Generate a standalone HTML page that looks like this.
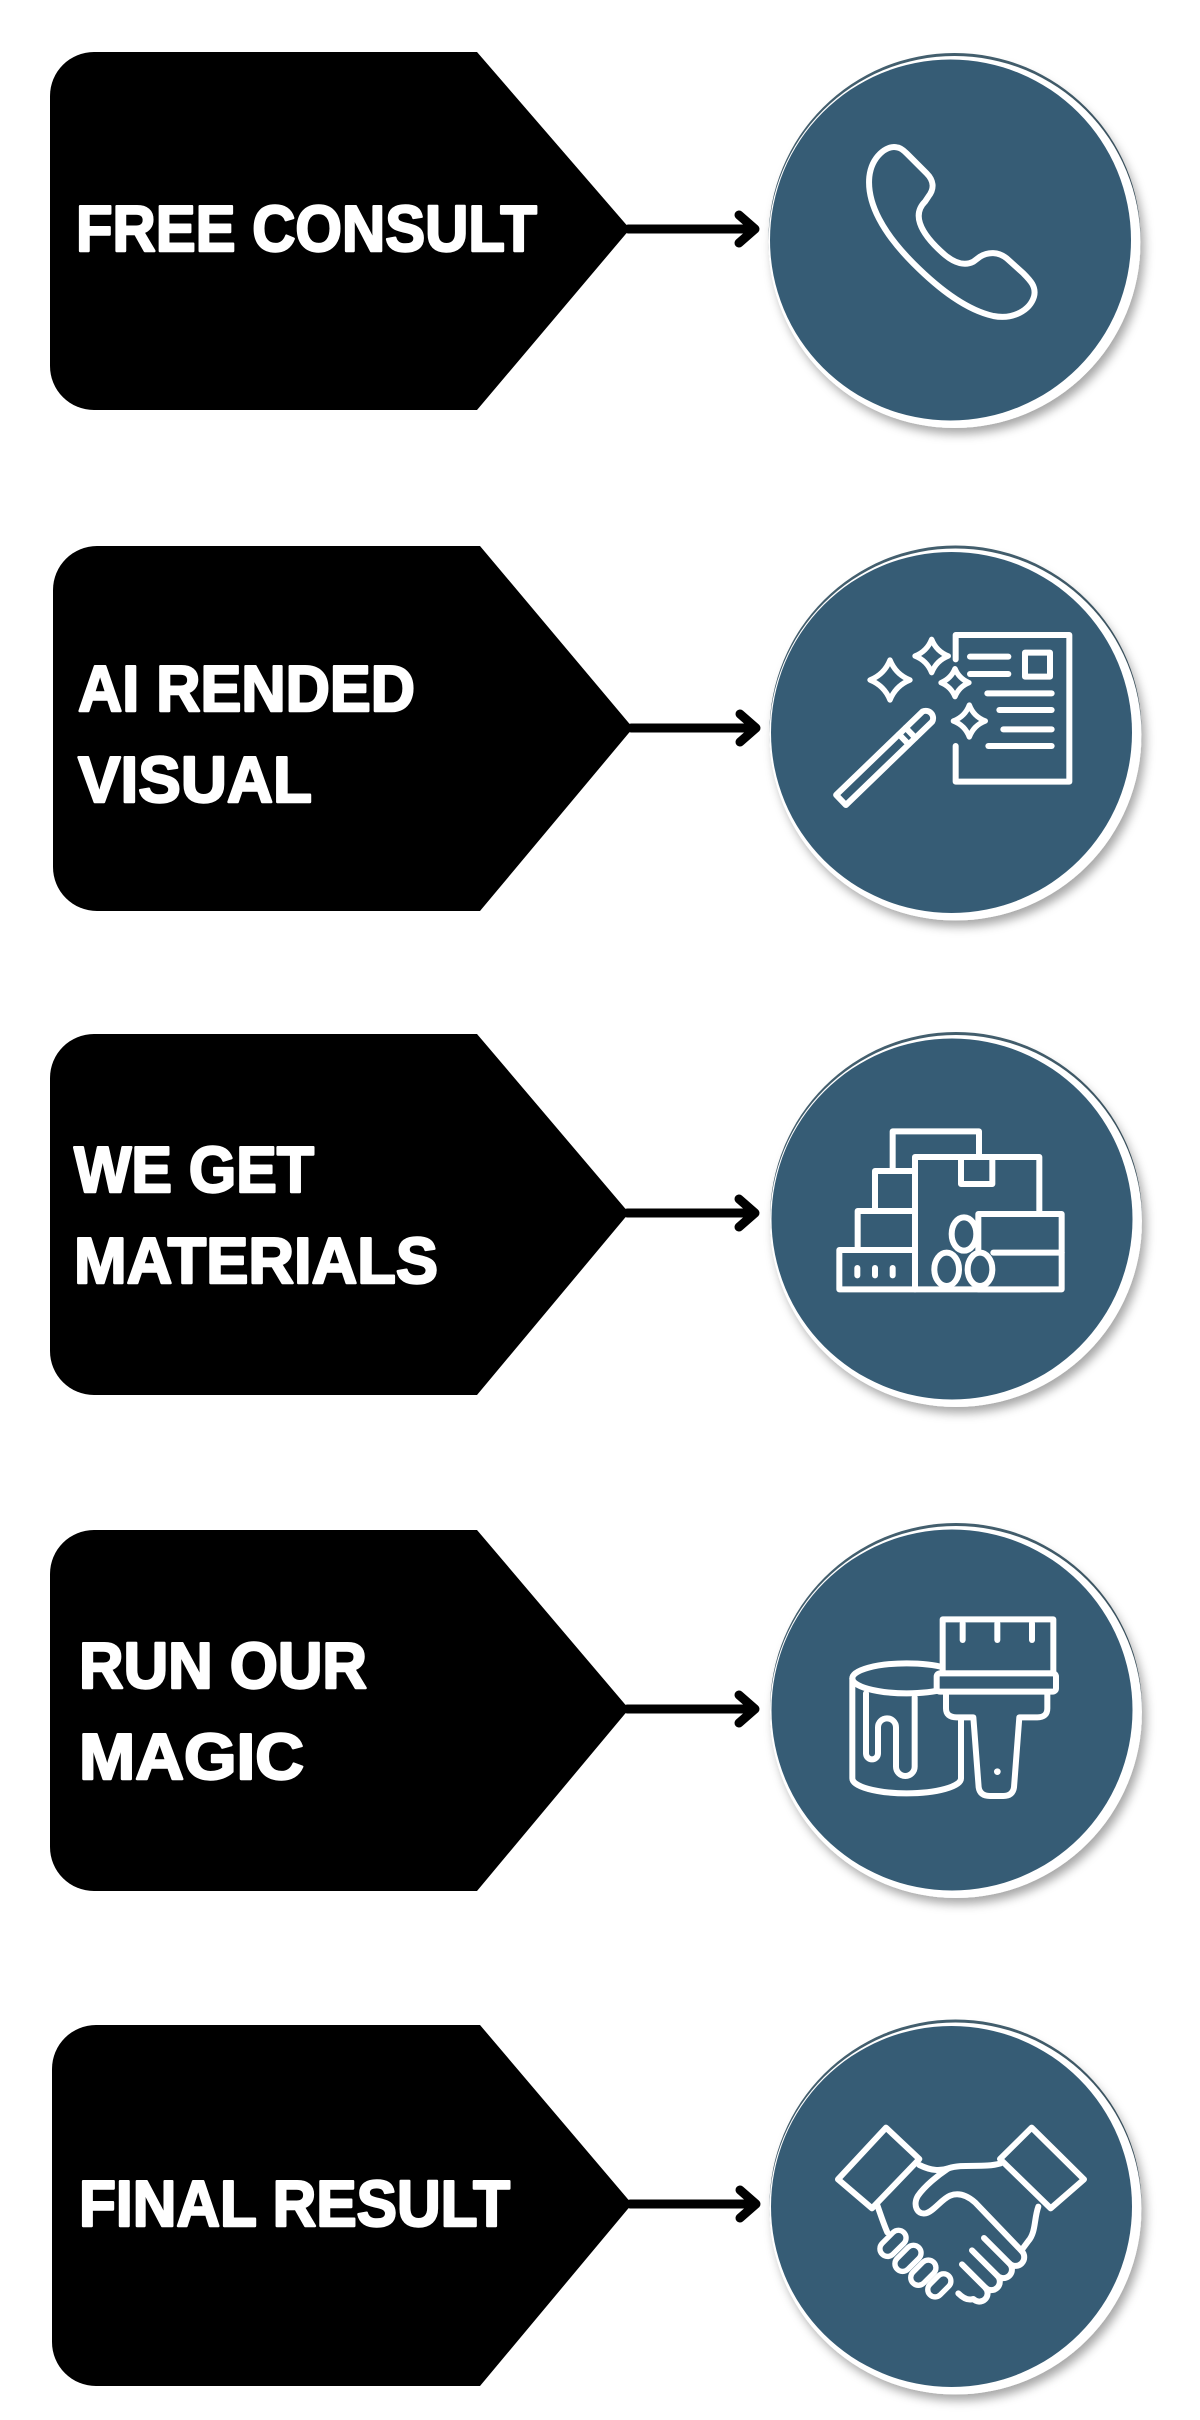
<!DOCTYPE html>
<html>
<head>
<meta charset="utf-8">
<style>
  html,body{margin:0;padding:0;background:#fff;}
  svg{display:block;}
  .lbl{font-family:"Liberation Sans",Arial,sans-serif;font-weight:700;font-size:65px;fill:#fff;stroke:#fff;stroke-width:2.4;stroke-linejoin:round;}
  .ic{fill:none;stroke:#fff;stroke-width:18;stroke-linecap:round;stroke-linejoin:round;}
  .ic .f{fill:#365c75;}
</style>
</head>
<body>
<svg width="1200" height="2420" viewBox="0 0 1200 2420" xmlns="http://www.w3.org/2000/svg">
  <defs>
    <filter id="sh" x="-20%" y="-20%" width="150%" height="150%">
      <feDropShadow dx="4" dy="6" stdDeviation="5" flood-color="#000" flood-opacity="0.35"/>
    </filter>
  </defs>
  <rect width="1200" height="2420" fill="#fff"/>

  <!-- ===== Row 1 ===== -->
  <path d="M94 52 H477 L630 229 L477 410 H94 A44 44 0 0 1 50 366 V96 A44 44 0 0 1 94 52 Z" fill="#000"/>
  <text class="lbl" x="76" y="251" textLength="461" lengthAdjust="spacingAndGlyphs">FREE CONSULT</text>
  <g stroke="#000" stroke-width="9" stroke-linecap="round" stroke-linejoin="round" fill="none">
    <line x1="628" y1="229" x2="753" y2="229"/>
    <polyline points="739,215 755,229 739,243"/>
  </g>
  <circle cx="954.5" cy="239" r="186" fill="#44606f"/>
  <circle cx="954.5" cy="242" r="186" fill="#fff" filter="url(#sh)"/>
  <circle cx="950.5" cy="240" r="180.5" fill="#365c75"/>
  <g class="ic" transform="translate(740,30) scale(0.33333)">
    <path d="M470 352 C440 345 395 380 388 440 C380 520 430 610 520 700 C600 780 680 840 760 858 C820 870 870 840 882 800 C890 770 870 750 850 730 L800 685 C775 665 745 665 720 680 L700 695 C675 708 645 700 615 675 C580 645 550 610 540 580 C530 550 540 530 555 515 L565 500 C585 475 580 450 560 430 L500 370 C490 360 480 352 470 352 Z"/>
  </g>

  <!-- ===== Row 2 ===== -->
  <path d="M97 546 H480 L633 728 L480 911 H97 A44 44 0 0 1 53 867 V590 A44 44 0 0 1 97 546 Z" fill="#000"/>
  <text class="lbl" x="78" y="711" textLength="337" lengthAdjust="spacingAndGlyphs">AI RENDED</text>
  <text class="lbl" x="78" y="802" textLength="234" lengthAdjust="spacingAndGlyphs">VISUAL</text>
  <g stroke="#000" stroke-width="9" stroke-linecap="round" stroke-linejoin="round" fill="none">
    <line x1="631" y1="728" x2="754" y2="728"/>
    <polyline points="740,714 756,728 740,742"/>
  </g>
  <circle cx="955.5" cy="731.5" r="186" fill="#44606f"/>
  <circle cx="955.5" cy="734.5" r="186" fill="#fff" filter="url(#sh)"/>
  <circle cx="951.5" cy="732.5" r="180.5" fill="#365c75"/>
  <g class="ic" transform="translate(760,520) scale(0.33333)">
    <path d="M587 418 V345 H928 V785 H587 V678"/>
    <line x1="630" y1="410" x2="745" y2="410"/>
    <line x1="630" y1="462" x2="745" y2="462"/>
    <line x1="682" y1="520" x2="875" y2="520"/>
    <line x1="718" y1="570" x2="875" y2="570"/>
    <line x1="730" y1="628" x2="875" y2="628"/>
    <line x1="685" y1="678" x2="875" y2="678"/>
    <rect x="795" y="398" width="75" height="72"/>
    <path stroke-width="16" d="M390 420 Q407 463 450 480 Q407 497 390 540 Q373 497 330 480 Q373 463 390 420 Z"/>
    <path stroke-width="16" d="M515 358 Q529 394 565 408 Q529 422 515 458 Q501 422 465 408 Q501 394 515 358 Z"/>
    <path stroke-width="16" d="M585 446 Q597 476 627 488 Q597 500 585 530 Q573 500 543 488 Q573 476 585 446 Z"/>
    <path stroke-width="16" d="M628 555 Q641 590 676 603 Q641 616 628 651 Q615 616 580 603 Q615 590 628 555 Z"/>
    <g transform="translate(243,840) rotate(-44)">
      <path class="f" d="M0 -21 H360 A22 22 0 0 1 360 21 H0 Z"/>
      <line x1="262" y1="-21" x2="262" y2="21"/>
      <line x1="290" y1="-21" x2="290" y2="21"/>
    </g>
  </g>

  <!-- ===== Row 3 ===== -->
  <path d="M94 1034 H477 L629 1213 L477 1395 H94 A44 44 0 0 1 50 1351 V1078 A44 44 0 0 1 94 1034 Z" fill="#000"/>
  <text class="lbl" x="74" y="1192" textLength="240" lengthAdjust="spacingAndGlyphs">WE GET</text>
  <text class="lbl" x="74" y="1283" textLength="364" lengthAdjust="spacingAndGlyphs">MATERIALS</text>
  <g stroke="#000" stroke-width="9" stroke-linecap="round" stroke-linejoin="round" fill="none">
    <line x1="627" y1="1213" x2="753" y2="1213"/>
    <polyline points="739,1199 755,1213 739,1227"/>
  </g>
  <circle cx="956" cy="1218" r="186" fill="#44606f"/>
  <circle cx="956" cy="1221" r="186" fill="#fff" filter="url(#sh)"/>
  <circle cx="952" cy="1219" r="180.5" fill="#365c75"/>
  <g class="ic" transform="translate(760,1010) scale(0.33333)">
    <rect class="f" x="398" y="364" width="259" height="200"/>
    <rect class="f" x="465" y="441" width="373" height="397"/>
    <rect class="f" x="603" y="441" width="94" height="81"/>
    <rect class="f" x="345" y="483" width="120" height="120"/>
    <rect class="f" x="293" y="603" width="172" height="117"/>
    <rect class="f" x="238" y="720" width="227" height="118"/>
    <rect class="f" x="655" y="612" width="250" height="226"/>
    <line x1="700" y1="728" x2="905" y2="728"/>
    <line x1="292" y1="774" x2="292" y2="796"/>
    <line x1="345" y1="774" x2="345" y2="796"/>
    <line x1="398" y1="774" x2="398" y2="796"/>
    <ellipse class="f" cx="612" cy="672" rx="37" ry="50"/>
    <ellipse class="f" cx="560" cy="778" rx="37" ry="50"/>
    <ellipse class="f" cx="660" cy="778" rx="37" ry="50"/>
  </g>

  <!-- ===== Row 4 ===== -->
  <path d="M94 1530 H477 L629 1709 L477 1891 H94 A44 44 0 0 1 50 1847 V1574 A44 44 0 0 1 94 1530 Z" fill="#000"/>
  <text class="lbl" x="79" y="1688" textLength="288" lengthAdjust="spacingAndGlyphs">RUN OUR</text>
  <text class="lbl" x="79" y="1779" textLength="225" lengthAdjust="spacingAndGlyphs">MAGIC</text>
  <g stroke="#000" stroke-width="9" stroke-linecap="round" stroke-linejoin="round" fill="none">
    <line x1="627" y1="1709" x2="753" y2="1709"/>
    <polyline points="739,1695 755,1709 739,1723"/>
  </g>
  <circle cx="956" cy="1709" r="186" fill="#44606f"/>
  <circle cx="956" cy="1712" r="186" fill="#fff" filter="url(#sh)"/>
  <circle cx="952" cy="1710" r="180.5" fill="#365c75"/>
  <g class="ic" transform="translate(760,1500) scale(0.33333)">
    <ellipse class="f" cx="440" cy="535" rx="163" ry="45"/>
    <path d="M277 535 V835 A163 45 0 0 0 603 835 V560"/>
    <path d="M318 580 V760 A18 18 0 0 0 354 760 V682 A27 27 0 0 1 408 682 V800 A28 28 0 0 0 464 800 V592"/>
    <rect class="f" x="548" y="358" width="332" height="162"/>
    <line x1="608" y1="370" x2="608" y2="420"/>
    <line x1="712" y1="370" x2="712" y2="420"/>
    <line x1="816" y1="370" x2="816" y2="420"/>
    <path class="f" d="M558 575 V625 Q558 652 590 652 H640 L656 862 Q660 888 690 888 H730 Q758 888 762 862 L778 652 H832 Q862 652 862 625 V575"/>
    <rect class="f" x="530" y="520" width="358" height="55" rx="10"/>
    <circle cx="712" cy="815" r="10" fill="#fff" stroke="none"/>
  </g>

  <!-- ===== Row 5 ===== -->
  <path d="M96 2025 H480 L632 2204 L480 2386 H96 A44 44 0 0 1 52 2342 V2069 A44 44 0 0 1 96 2025 Z" fill="#000"/>
  <text class="lbl" x="79" y="2226" textLength="431" lengthAdjust="spacingAndGlyphs">FINAL RESULT</text>
  <g stroke="#000" stroke-width="9" stroke-linecap="round" stroke-linejoin="round" fill="none">
    <line x1="630" y1="2204" x2="754" y2="2204"/>
    <polyline points="740,2190 756,2204 740,2218"/>
  </g>
  <circle cx="955.5" cy="2205.5" r="186" fill="#44606f"/>
  <circle cx="955.5" cy="2208.5" r="186" fill="#fff" filter="url(#sh)"/>
  <circle cx="951.5" cy="2206.5" r="180.5" fill="#365c75"/>
  <g class="ic" transform="translate(760,1995) scale(0.33333)">
    <path d="M478 510 C515 528 540 528 565 520 C610 505 670 520 722 505"/>
    <path d="M835 635 C822 670 828 712 805 738 L785 765"/>
    <path d="M565 520 C535 540 495 572 474 602 C458 628 470 660 497 655 C520 650 545 612 570 602 C595 592 620 600 645 622 L785 768"/>
    <path d="M785 768 A24 24 0 0 1 748 805 A24 24 0 0 1 712 842 A24 24 0 0 1 676 878 A24 24 0 0 1 640 912 C622 918 605 905 595 895"/>
    <line x1="748" y1="805" x2="672" y2="729"/>
    <line x1="712" y1="842" x2="636" y2="766"/>
    <line x1="676" y1="878" x2="606" y2="808"/>
    <path d="M350 625 C362 660 372 690 382 712"/>
    <rect class="f" stroke-width="16" x="353" y="722" width="92" height="46" rx="23" transform="rotate(-45 399 745)"/>
    <rect class="f" stroke-width="16" x="398" y="767" width="92" height="46" rx="23" transform="rotate(-45 444 790)"/>
    <rect class="f" stroke-width="16" x="446" y="810" width="88" height="46" rx="23" transform="rotate(-45 490 833)"/>
    <rect class="f" stroke-width="16" x="498" y="849" width="80" height="44" rx="22" transform="rotate(-45 538 871)"/>
    <polygon class="f" points="378,398 478,492 336,640 234,553"/>
    <polygon class="f" points="815,398 720,492 872,640 972,553"/>
  </g>
</svg>
</body>
</html>
